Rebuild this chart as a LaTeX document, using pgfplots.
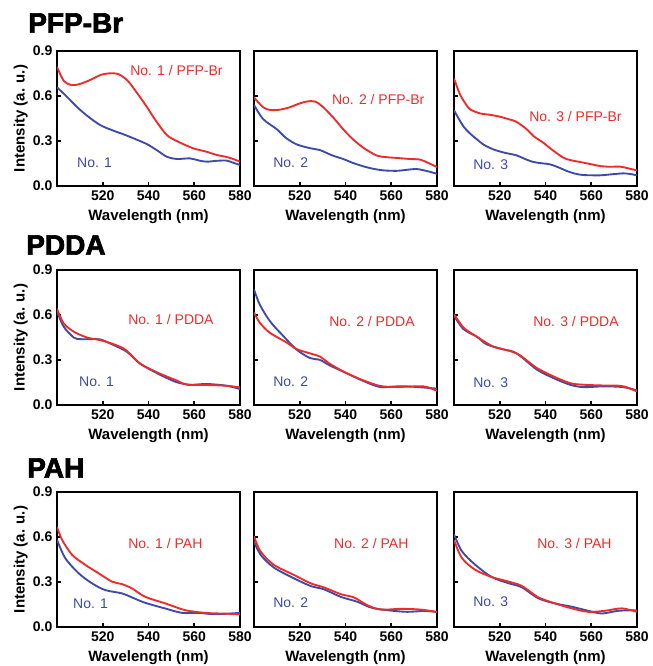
\documentclass[border=0pt]{standalone}
\usepackage{fontspec}
\setmainfont{Liberation Sans}
\newfontfamily\titlefont[BoldFeatures={FakeBold=2.5}]{Liberation Sans}
\usepackage{pgfplots}
\pgfplotsset{compat=1.18}
\definecolor{SpecRed}{HTML}{EE2B2B}
\definecolor{SpecBlue}{HTML}{3D4BA8}

\pgfplotsset{
  panel/.style={
    scale only axis, width=137.25pt, height=101.25pt,
    anchor=north west,
    xmin=500, xmax=580, ymin=0, ymax=0.9,
    xtick={520,540,560,580}, ytick={0,0.3,0.6,0.9},
    axis line style={line width=1.4pt},
    tick align=inside, ytick pos=left, xtick pos=bottom,
    major tick length=3pt,
    tick style={black, line width=1.2pt},
    tick label style={font=\bfseries\fontsize{10.5}{12}\selectfont},
    /pgf/number format/assume math mode=true,
    yticklabel style={/pgf/number format/fixed, /pgf/number format/fixed zerofill, /pgf/number format/precision=1},
    xlabel={Wavelength (nm)},
    label style={font=\bfseries\fontsize{11.25}{13}\selectfont},
    ylabel shift=-3pt,
    every axis plot/.append style={line width=1.4pt, smooth},
  },
  first/.style={ylabel={Intensity (a. u.)}},
  other/.style={yticklabels={}},
}
\tikzset{
  red note/.style={anchor=west, inner sep=0pt, text=SpecRed, font=\fontsize{10.5}{12}\selectfont},
  blue note/.style={anchor=west, inner sep=0pt, text=SpecBlue, font=\fontsize{10.5}{12}\selectfont},
  row title/.style={anchor=west, inner sep=0pt, font=\titlefont\bfseries\fontsize{21}{24}\selectfont},
}

\begin{document}
\begin{tikzpicture}
\useasboundingbox (0,0) rectangle (489pt,499.5pt);

% row titles
\node[row title] at (21pt,482.25pt) {PFP-Br};
\node[row title] at (19.5pt,315.75pt) {PDDA};
\node[row title] at (20.25pt,148.5pt) {PAH};

% ---- PFP-Br ----
\begin{axis}[panel, first, at={(42.75pt,461.25pt)}]
  \addplot[SpecBlue] coordinates {(500,0.658)(504,0.60)(508.6,0.529)(513,0.47)(518.8,0.407)(524.6,0.369)(529,0.345)(533.4,0.318)(539.2,0.28)(544,0.235)(548,0.195)(552.4,0.18)(558.1,0.184)(562,0.17)(565.4,0.162)(570,0.168)(574.2,0.169)(577,0.155)(580,0.14)};
  \addplot[SpecRed] coordinates {(500,0.795)(503,0.70)(506.4,0.673)(510,0.68)(515,0.71)(519,0.74)(523,0.751)(527,0.745)(531,0.70)(535,0.62)(539.2,0.529)(543,0.44)(548,0.34)(553,0.295)(559.6,0.251)(565,0.23)(569.8,0.207)(575,0.19)(580,0.162)};
  \node[red note] at (axis description cs:0.399,0.859) {No. 1 / PFP-Br};
  \node[blue note] at (axis description cs:0.109,0.17) {No. 1};
\end{axis}
\begin{axis}[panel, other, at={(190.5pt,461.25pt)}]
  \addplot[SpecBlue] coordinates {(500,0.54)(504,0.446)(510,0.378)(514,0.32)(518.7,0.277)(524.5,0.252)(528.9,0.239)(534,0.205)(539,0.18)(543,0.155)(547.8,0.131)(552,0.115)(556.6,0.104)(562.4,0.101)(567,0.108)(571.1,0.113)(576,0.098)(580,0.081)};
  \addplot[SpecRed] coordinates {(500,0.59)(504,0.525)(507,0.507)(511,0.508)(515.7,0.525)(519,0.545)(523,0.563)(526.7,0.563)(530.3,0.525)(535,0.45)(539,0.378)(543,0.315)(547.8,0.255)(553.6,0.203)(558,0.192)(562.4,0.187)(568,0.18)(572.6,0.176)(576,0.155)(580,0.126)};
  \node[red note] at (axis description cs:0.425,0.644) {No. 2 / PFP-Br};
  \node[blue note] at (axis description cs:0.104,0.17) {No. 2};
\end{axis}
\begin{axis}[panel, other, at={(340.5pt,461.25pt)}]
  \addplot[SpecBlue] coordinates {(500,0.504)(504,0.40)(507,0.35)(510,0.311)(513,0.275)(517.2,0.244)(522,0.222)(527.4,0.204)(531,0.18)(534.7,0.16)(538,0.152)(542,0.144)(546,0.122)(549.3,0.10)(553,0.082)(556.6,0.073)(563.8,0.071)(569,0.078)(574,0.084)(577,0.08)(580,0.071)};
  \addplot[SpecRed] coordinates {(500,0.716)(502.6,0.611)(505,0.55)(507,0.511)(511.4,0.484)(516,0.474)(520,0.462)(524,0.445)(527.4,0.427)(531.8,0.378)(535,0.33)(539,0.289)(543,0.24)(547.8,0.189)(551,0.172)(555.1,0.16)(560,0.145)(563.8,0.133)(568,0.128)(572.6,0.129)(576,0.118)(580,0.104)};
  \node[red note] at (axis description cs:0.41,0.511) {No. 3 / PFP-Br};
  \node[blue note] at (axis description cs:0.104,0.156) {No. 3};
\end{axis}

% ---- PDDA ----
\begin{axis}[panel, first, at={(42.75pt,297pt)}]
  \addplot[SpecBlue] coordinates {(500,0.624)(502.9,0.523)(507.3,0.45)(510.2,0.439)(514.6,0.439)(519,0.437)(524.8,0.399)(530.6,0.354)(536.4,0.275)(543.7,0.212)(548,0.18)(552.5,0.151)(558.3,0.135)(565.6,0.14)(574.3,0.128)(580,0.106)};
  \addplot[SpecRed] coordinates {(500,0.642)(502.9,0.545)(507.3,0.489)(513.1,0.45)(519,0.432)(524.8,0.405)(529.2,0.376)(532,0.34)(536.4,0.275)(543.7,0.218)(548,0.19)(552.5,0.162)(556.9,0.135)(565.6,0.133)(574.3,0.128)(580,0.117)};
  \node[red note] at (axis description cs:0.388,0.63) {No. 1 / PDDA};
  \node[blue note] at (axis description cs:0.12,0.17) {No. 1};
\end{axis}
\begin{axis}[panel, other, at={(190.5pt,297pt)}]
  \addplot[SpecBlue] coordinates {(500,0.77)(502.6,0.667)(507,0.558)(512.8,0.46)(518.7,0.368)(524.5,0.313)(528.9,0.30)(533.2,0.263)(540.5,0.212)(547.8,0.16)(555.1,0.12)(563.8,0.125)(571.1,0.12)(580,0.109)};
  \addplot[SpecRed] coordinates {(500,0.617)(502.6,0.547)(507,0.481)(514.3,0.416)(518.7,0.372)(524.5,0.344)(528.9,0.322)(533.2,0.274)(540.5,0.212)(547.8,0.164)(555.1,0.127)(562.4,0.12)(572.6,0.125)(576,0.118)(580,0.094)};
  \node[red note] at (axis description cs:0.41,0.622) {No. 2 / PDDA};
  \node[blue note] at (axis description cs:0.104,0.17) {No. 2};
\end{axis}
\begin{axis}[panel, other, at={(340.5pt,297pt)}]
  \addplot[SpecBlue] coordinates {(500,0.596)(504.1,0.506)(509.9,0.456)(514.3,0.404)(521.6,0.371)(527.4,0.344)(536.2,0.236)(543.4,0.18)(550.7,0.135)(556.6,0.119)(565.3,0.124)(574,0.119)(580,0.097)};
  \addplot[SpecRed] coordinates {(500,0.607)(504.1,0.517)(509.9,0.456)(517.2,0.389)(524.5,0.36)(528.9,0.33)(536.2,0.247)(543.4,0.191)(550.7,0.146)(556.6,0.135)(565.3,0.13)(572.6,0.128)(576,0.115)(580,0.09)};
  \node[red note] at (axis description cs:0.432,0.615) {No. 3 / PDDA};
  \node[blue note] at (axis description cs:0.104,0.163) {No. 3};
\end{axis}

% ---- PAH ----
\begin{axis}[panel, first, at={(42.75pt,130.5pt)}]
  \addplot[SpecBlue] coordinates {(500,0.582)(503.6,0.459)(509.5,0.358)(515.3,0.291)(521.1,0.246)(528.4,0.224)(532.8,0.197)(538.6,0.161)(547.4,0.123)(554.7,0.094)(561.9,0.094)(569.2,0.085)(580,0.094)};
  \addplot[SpecRed] coordinates {(500,0.667)(502.2,0.582)(506.6,0.481)(512.4,0.414)(518.2,0.358)(524.1,0.302)(528.4,0.286)(532.8,0.257)(538.6,0.201)(547.4,0.157)(556.1,0.112)(564.9,0.094)(573.6,0.089)(580,0.085)};
  \node[red note] at (axis description cs:0.388,0.622) {No. 1 / PAH};
  \node[blue note] at (axis description cs:0.087,0.17) {No. 1};
\end{axis}
\begin{axis}[panel, other, at={(190.5pt,130.5pt)}]
  \addplot[SpecBlue] coordinates {(500,0.57)(502.9,0.481)(508.7,0.396)(517.5,0.324)(524.8,0.273)(530.6,0.251)(537.9,0.201)(545.2,0.168)(551,0.13)(558.3,0.112)(567,0.101)(574.3,0.107)(580,0.10)};
  \addplot[SpecRed] coordinates {(500,0.604)(502.9,0.503)(508.7,0.414)(517.5,0.347)(524.8,0.291)(530.6,0.264)(537.9,0.219)(543.7,0.197)(549.6,0.145)(555.4,0.116)(564.1,0.121)(572.9,0.116)(580,0.10)};
  \node[red note] at (axis description cs:0.437,0.622) {No. 2 / PAH};
  \node[blue note] at (axis description cs:0.104,0.178) {No. 2};
\end{axis}
\begin{axis}[panel, other, at={(340.5pt,130.5pt)}]
  \addplot[SpecBlue] coordinates {(500,0.618)(503.4,0.506)(509.2,0.416)(516.5,0.333)(523.8,0.292)(529.6,0.265)(536.9,0.191)(544.2,0.157)(551.5,0.135)(558.7,0.108)(564.6,0.09)(571.9,0.108)(580,0.112)};
  \addplot[SpecRed] coordinates {(500,0.58)(503.4,0.461)(509.2,0.382)(516.5,0.333)(523.8,0.303)(529.6,0.274)(536.9,0.198)(544.2,0.157)(551.5,0.124)(558.7,0.101)(566,0.108)(573.3,0.124)(580,0.101)};
  \node[red note] at (axis description cs:0.454,0.622) {No. 3 / PAH};
  \node[blue note] at (axis description cs:0.104,0.185) {No. 3};
\end{axis}
\end{tikzpicture}
\end{document}
